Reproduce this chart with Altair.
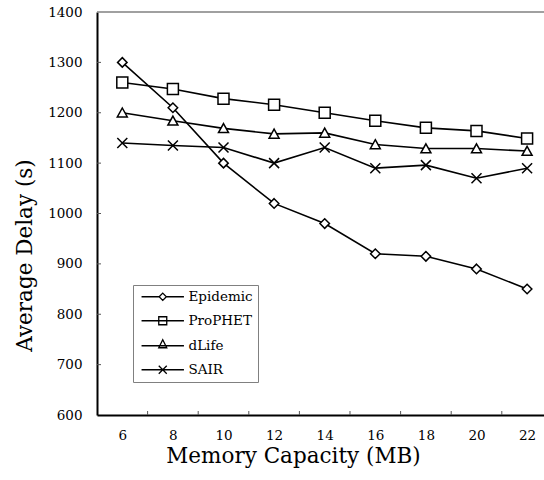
import altair as alt
import pandas as pd

memory = [6, 8, 10, 12, 14, 16, 18, 20, 22]
epidemic = [1300, 1210, 1100, 1020, 980, 920, 915, 890, 850]
prophet = [1260, 1247, 1228, 1216, 1200, 1184, 1170, 1164, 1149]
dlife = [1200, 1184, 1169, 1158, 1160, 1137, 1129, 1129, 1124]
sair = [1140, 1135, 1131, 1100, 1131, 1090, 1096, 1070, 1090]
series_names = ["Epidemic", "ProPHET", "dLife", "SAIR"]

x_minor_ticks = [7, 9, 11, 13, 15, 17, 19, 21]
y_ticks = [700, 800, 900, 1000, 1100, 1200, 1300]

rows = []
for name, vals in zip(series_names, [epidemic, prophet, dlife, sair]):
    for m, v in zip(memory, vals):
        rows.append({"memory": m, "delay": v, "series": name})
df = pd.DataFrame(rows)

FONT = "DejaVu Serif"

W, H = 447, 403
xscale = alt.Scale(domain=[5, 22.668], nice=False, zero=False)
yscale = alt.Scale(domain=[600, 1400], nice=False, zero=False)

xaxis = alt.Axis(
    values=memory, ticks=False, grid=False, domainColor="black", domainWidth=2, format="d",
    labelFont=FONT, labelFontSize=13.5, labelColor="black", labelPadding=13,
    title="Memory Capacity (MB)", titleFont=FONT, titleFontSize=21.5,
    titleFontWeight="normal", titleColor="black", titleX=196, titleY=47,
    titleBaseline="alphabetic", titleAnchor="start", titleAlign="center",
)
yaxis = alt.Axis(
    values=[600, 700, 800, 900, 1000, 1100, 1200, 1300, 1400], ticks=False, grid=False,
    domainColor="black", domainWidth=2, format="d",
    labelFont=FONT, labelFontSize=13.5, labelColor="black", labelPadding=15,
    title="Average Delay (s)", titleFont=FONT, titleFontSize=21.5,
    titleFontWeight="normal", titleColor="black", titleX=-66, titleY=243,
    titleBaseline="alphabetic", titleAlign="center", titleAngle=270,
)

X = alt.X("memory:Q", scale=xscale, axis=xaxis)
Y = alt.Y("delay:Q", scale=yscale, axis=yaxis)

plot_shapes = [
    "M0,-0.95L0.95,0L0,0.95L-0.95,0Z",
    "M-1.1,-1.1L1.1,-1.1L1.1,1.1L-1.1,1.1Z",
    "M0,-0.95L1,0.85L-1,0.85Z",
    "M-1,-1L1,1M-1,1L1,-1",
]
legend_shapes = [
    "M-5.3,0L-0.9,0M0.9,0L5.3,0M0,-0.9L0.9,0L0,0.9L-0.9,0Z",
    "M-5.3,0L5.3,0M-1,-1L1,-1L1,1L-1,1Z",
    "M-5.3,0L5.3,0M0,-1.5L1,0.5L-1,0.5Z",
    "M-5.3,0L5.3,0M-1,-1L1,1M-1,1L1,-1",
]

lines = alt.Chart(df).mark_line(color="black", strokeWidth=1.6).encode(
    x=X, y=Y, detail="series:N", order="memory:Q"
)

points = alt.Chart(df).mark_point(
    filled=True, fill="white", stroke="black", strokeWidth=1.5, size=100, opacity=1
).encode(
    x=X, y=Y,
    shape=alt.Shape("series:N", scale=alt.Scale(domain=series_names, range=plot_shapes), legend=None),
)

legend_layer = alt.Chart(df).transform_filter("datum.delay < 0").mark_point(
    filled=False, color="black", strokeWidth=1.3, size=64, opacity=1
).encode(
    x=X, y=Y,
    shape=alt.Shape(
        "series:N",
        scale=alt.Scale(domain=series_names, range=legend_shapes),
        legend=alt.Legend(
            title=None, orient="none", legendX=36, legendY=273,
            padding=5, strokeColor="#808080", fillColor="white",
            symbolSize=64, symbolStrokeColor="black",
            symbolStrokeWidth=1.3, symbolOffset=18,
            labelFont=FONT, labelFontSize=13.5, labelColor="black",
            labelOffset=19, rowPadding=9,
        ),
    ),
)

ytick_rules = alt.Chart(pd.DataFrame({"delay": y_ticks})).mark_rule(color="#555555", strokeWidth=1).encode(
    y=Y, x=alt.value(0), x2=alt.value(4)
)
xtick_rules = alt.Chart(pd.DataFrame({"memory": x_minor_ticks})).mark_rule(color="#555555", strokeWidth=1).encode(
    x=X, y=alt.value(H - 4), y2=alt.value(H)
)
top_border = alt.Chart(pd.DataFrame({"memory": [0]})).mark_rule(color="#808080", strokeWidth=1.5).encode(
    x=alt.value(0), x2=alt.value(W), y=alt.value(0)
)

chart = alt.layer(
    lines, points, legend_layer, top_border, ytick_rules, xtick_rules
).resolve_scale(shape="independent").properties(
    width=W, height=H,
    autosize=alt.AutoSizeParams(type="none"),
    padding={"left": 97, "top": 12, "right": 0, "bottom": 65},
    background="white",
).configure_view(stroke=None)

chart.save("out.html", embed_options={"renderer": "svg", "actions": False})
